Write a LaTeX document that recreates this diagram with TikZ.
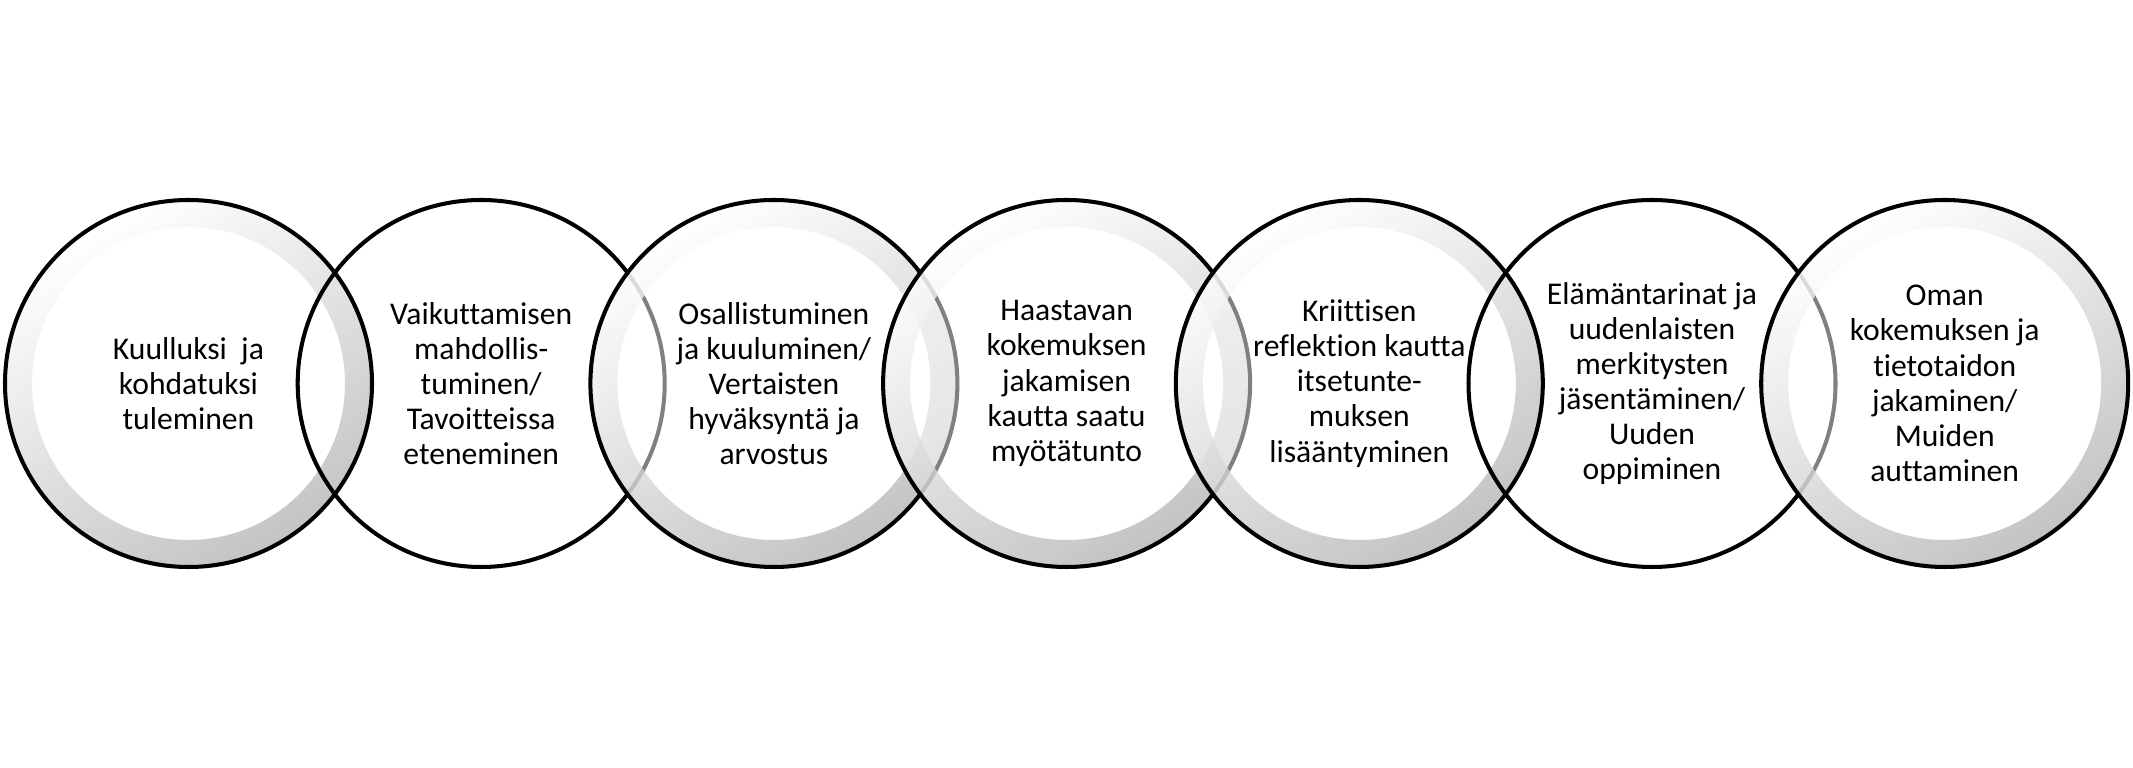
\documentclass[tikz,border=0pt]{standalone}
\usepackage{fontspec}
\setmainfont{Carlito}[Ligatures=NoCommon]
\tikzset{
  venn/.style={draw=black, line width=1.15pt},
  ringshade/.style={even odd rule, top color=white, bottom color=black!31, shading angle=30, fill opacity=0.75},
  veil/.style={fill=white, fill opacity=0.5},
  vtext/.style={align=center, inner sep=0pt, font=\fontsize{9}{10}\selectfont},
}
\begin{document}
\begin{tikzpicture}
\useasboundingbox (0,0) rectangle (21.33,7.68); % page size of the figure
% circle 1
\shade[ringshade, shift={(1.885,3.845)}] (0,0) circle (1.835) (0,0) circle (1.565);
\draw[venn, shift={(1.885,3.845)}] (0,0) circle (1.835);
\node[vtext] (kuulluksi) at (1.885,3.845) {Kuulluksi\ \ ja\\kohdatuksi\\tuleminen};
% circle 2, plain
\draw[venn, shift={(4.812,3.845)}] (0,0) circle (1.835);
\node[vtext] (vaikuttamisen) at (4.812,3.845) {Vaikuttamisen\\mahdollis-\\tuminen/\\Tavoitteissa\\eteneminen};
% circle 3
\fill[veil, shift={(7.739,3.845)}] (0,0) circle (1.835);
\shade[ringshade, shift={(7.739,3.845)}] (0,0) circle (1.835) (0,0) circle (1.565);
\draw[venn, shift={(7.739,3.845)}] (0,0) circle (1.835);
\node[vtext] (osallistuminen) at (7.739,3.845) {Osallistuminen\\ja kuuluminen/\\Vertaisten\\hyväksyntä ja\\arvostus};
% circle 4
\fill[veil, shift={(10.666,3.845)}] (0,0) circle (1.835);
\shade[ringshade, shift={(10.666,3.845)}] (0,0) circle (1.835) (0,0) circle (1.565);
\draw[venn, shift={(10.666,3.845)}] (0,0) circle (1.835);
\node[vtext] (haastavan) at (10.666,3.845) {Haastavan\\kokemuksen\\jakamisen\\kautta saatu\\myötätunto};
% circle 5
\fill[veil, shift={(13.593,3.845)}] (0,0) circle (1.835);
\shade[ringshade, shift={(13.593,3.845)}] (0,0) circle (1.835) (0,0) circle (1.565);
\draw[venn, shift={(13.593,3.845)}] (0,0) circle (1.835);
\node[vtext] (kriittisen) at (13.593,3.845) {Kriittisen\\reflektion kautta\\itsetunte-\\muksen\\lisääntyminen};
% circle 6, plain
\draw[venn, shift={(16.520,3.845)}] (0,0) circle (1.835);
\node[vtext] (elamantarinat) at (16.520,3.845) {Elämäntarinat ja\\uudenlaisten\\merkitysten\\jäsentäminen/\\Uuden\\oppiminen};
% circle 7
\fill[veil, shift={(19.447,3.845)}] (0,0) circle (1.835);
\shade[ringshade, shift={(19.447,3.845)}] (0,0) circle (1.835) (0,0) circle (1.565);
\draw[venn, shift={(19.447,3.845)}] (0,0) circle (1.835);
\node[vtext] (oman) at (19.447,3.845) {Oman\\kokemuksen ja\\tietotaidon\\jakaminen/\\Muiden\\auttaminen};
\end{tikzpicture}
\end{document}
